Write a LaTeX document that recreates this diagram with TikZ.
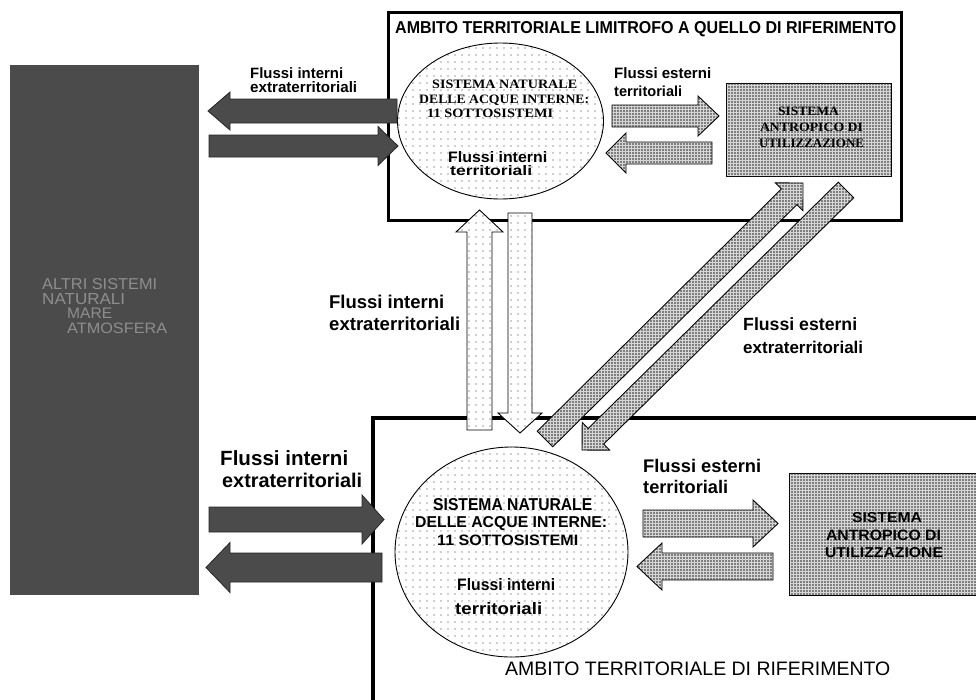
\documentclass[tikz,border=0pt]{standalone}
\usepackage{fontspec}
\setmainfont{Liberation Sans}
\newfontfamily\serifbold{Liberation Serif}[BoldFont={Liberation Serif Bold}]
\usepackage{graphicx}
\usetikzlibrary{calc,patterns.meta,shapes.geometric}

\definecolor{darkfill}{HTML}{4B4B4B}
\definecolor{darktext}{HTML}{8E8E8E}

% a line of text squeezed to a given width and height (pt)
\newcommand\fitw[3]{\resizebox{#1pt}{#2pt}{#3}}
% a line of text scaled to a given width, natural aspect
\newcommand\fitn[2]{\resizebox{#1pt}{!}{#2}}

% block arrow: #1 style, #2 tail, #3 tip, #4 half shaft width,
% #5 head length, #6 half head width
\newcommand\blockarrow[6]{%
  \coordinate (hb) at ($(#3)!#5pt!(#2)$);
  \draw[#1] ($(#2)!#4pt!-90:(#3)$) -- ($(hb)!#4pt!-90:(#3)$)
    -- ($(hb)!#6pt!-90:(#3)$) -- (#3) -- ($(hb)!#6pt!90:(#3)$)
    -- ($(hb)!#4pt!90:(#3)$) -- ($(#2)!#4pt!90:(#3)$) -- cycle;
}

\tikzset{
  darkflow/.style={fill=darkfill, draw=black!85, line width=0.8pt},
  dense/.style={fill=gray!32, draw=black, line width=0.9pt,
    postaction={pattern={Dots[distance=3pt,radius=0.8pt]}, pattern color=black!85}},
  sparse/.style={fill=white, draw=black, line width=0.9pt,
    postaction={pattern={Dots[distance=7pt,radius=0.6pt]}, pattern color=black!80}},
  lab/.style={inner sep=0pt, anchor=base west},
  frame/.style={draw=black, line width=3pt},
}

\begin{document}
\begin{tikzpicture}[x=1pt, y=-1pt]
\useasboundingbox (0,0) rectangle (976,699);

% other natural systems
\node[fill=darkfill, draw=darkfill, minimum width=188pt, minimum height=529pt,
      inner sep=0pt] (altri) at (104,329.5) {};

% neighbouring territory
\node[frame, minimum width=513pt, minimum height=208pt, inner sep=0pt]
  (limitrofo) at (644.5,116) {};

% reference territory (open towards right and bottom)
\coordinate (rifTR) at (980,418);
\coordinate (rifTL) at (373,418);
\coordinate (rifBL) at (373,703);
\draw[draw=black, line width=4pt] (rifTR) -- (rifTL) -- (rifBL);

% natural water systems
\node[sparse, ellipse, minimum width=206pt, minimum height=156pt, inner sep=0pt]
  (nat1) at (500.5,121) {};
\node[sparse, ellipse, minimum width=233pt, minimum height=210pt, inner sep=0pt]
  (nat2) at (511.5,552) {};

% anthropic systems of use
\node[dense, minimum width=165pt, minimum height=93pt, inner sep=0pt]
  (ant1) at (808.5,129.5) {};
\node[dense, minimum width=191pt, minimum height=122pt, inner sep=0pt]
  (ant2) at (884.5,534) {};

% arrow end points
\coordinate (a1s) at (397,111);   \coordinate (a1e) at (208,111);
\coordinate (a2s) at (209,146);   \coordinate (a2e) at (398,146);
\coordinate (a3s) at (209,519.5); \coordinate (a3e) at (384,519.5);
\coordinate (a4s) at (382,567.5); \coordinate (a4e) at (206,567.5);
\coordinate (a5s) at (612,116);   \coordinate (a5e) at (719,116);
\coordinate (a6s) at (712,153);   \coordinate (a6e) at (606,153);
\coordinate (a7s) at (643,523.5); \coordinate (a7e) at (778,523.5);
\coordinate (a8s) at (773,566.5); \coordinate (a8e) at (637,566.5);
\coordinate (a9s) at (479.5,430); \coordinate (a9e) at (479.5,210);
\coordinate (a10s) at (520,213); \coordinate (a10e) at (520,433);
\coordinate (a11s) at (545,439); \coordinate (a11e) at (803,183);
\coordinate (a12s) at (846,190); \coordinate (a12e) at (582,450);

% external extraterritorial flows (diagonal)
\blockarrow{dense}{a11s}{a11e}{11}{19.5}{19.5}
\blockarrow{dense}{a12s}{a12e}{11}{19.5}{19.5}

% internal extraterritorial flows between the two water systems
\blockarrow{sparse}{a9s}{a9e}{12.5}{22}{23.5}
\blockarrow{sparse}{a10s}{a10e}{12}{20}{22}

% internal extraterritorial flows towards the other natural systems
\blockarrow{darkflow}{a1s}{a1e}{12}{22}{19}
\blockarrow{darkflow}{a2s}{a2e}{11}{20}{19.5}
\blockarrow{darkflow}{a3s}{a3e}{12.5}{22}{24.5}
\blockarrow{darkflow}{a4s}{a4e}{14.5}{24}{25}

% external territorial flows
\blockarrow{dense}{a5s}{a5e}{11}{21}{20}
\blockarrow{dense}{a6s}{a6e}{11}{20}{20}
\blockarrow{dense}{a7s}{a7e}{13.5}{25}{23.5}
\blockarrow{dense}{a8s}{a8e}{13.5}{25}{23.5}

% ---- texts ----
\node[lab] (t0) at (395,33) {\fitw{501}{12}{\bfseries AMBITO TERRITORIALE LIMITROFO A QUELLO DI RIFERIMENTO}};
\node[lab] (t1) at (505,675) {\fitn{385}{AMBITO TERRITORIALE DI RIFERIMENTO}};

% other natural systems
\begin{scope}[every node/.style={lab, text=darktext}]
\node (o1) at (42,289) {\fitw{115}{11}{ALTRI SISTEMI}};
\node (o2) at (42,304) {\fitw{83}{11}{NATURALI}};
\node (o3) at (67,318) {\fitw{45}{10.5}{MARE}};
\node (o4) at (67,333) {\fitw{100}{10.5}{ATMOSFERA}};
\end{scope}

% upper water system
\node[lab] (u1) at (432,88)  {\fitw{145}{8.5}{\serifbold\bfseries SISTEMA NATURALE}};
\node[lab] (u2) at (419,103) {\fitw{170}{8.5}{\serifbold\bfseries DELLE ACQUE INTERNE:}};
\node[lab] (u3) at (427,117) {\fitw{126}{8.5}{\serifbold\bfseries 11 SOTTOSISTEMI}};
\node[lab] (u4) at (448,162) {\fitw{99}{11}{\bfseries Flussi interni}};
\node[lab] (u5) at (450,175) {\fitw{82}{10}{\bfseries territoriali}};

% lower water system
\node[lab] (l1) at (433,510) {\fitw{159}{12}{\bfseries SISTEMA NATURALE}};
\node[lab] (l2) at (415,527) {\fitw{192}{11}{\bfseries DELLE ACQUE INTERNE:}};
\node[lab] (l3) at (437,545) {\fitw{141}{10.5}{\bfseries 11 SOTTOSISTEMI}};
\node[lab] (l4) at (457,590) {\fitw{98}{12}{\bfseries Flussi interni}};
\node[lab] (l5) at (455,614) {\fitw{87}{12}{\bfseries territoriali}};

% anthropic systems
\node[lab, anchor=base] (s1) at (808.5,115) {\fitw{61}{8.5}{\serifbold\bfseries SISTEMA}};
\node[lab, anchor=base] (s2) at (811.5,131) {\fitw{103}{8.5}{\serifbold\bfseries ANTROPICO DI}};
\node[lab, anchor=base] (s3) at (811.5,147) {\fitw{105}{8.5}{\serifbold\bfseries UTILIZZAZIONE}};
\node[lab, anchor=base] (s4) at (887,522) {\fitw{70}{10}{\bfseries SISTEMA}};
\node[lab, anchor=base] (s5) at (883.5,540) {\fitw{115}{10.5}{\bfseries ANTROPICO DI}};
\node[lab, anchor=base] (s6) at (884,557) {\fitw{118}{10}{\bfseries UTILIZZAZIONE}};

% flow labels
\node[lab] (f1) at (250,78)  {\fitn{93}{\bfseries Flussi interni}};
\node[lab] (f2) at (250,92)  {\fitn{107}{\bfseries extraterritoriali}};
\node[lab] (f3) at (614,78)  {\fitn{97}{\bfseries Flussi esterni}};
\node[lab] (f4) at (614,96)  {\fitn{68}{\bfseries territoriali}};
\node[lab] (f5) at (329,308) {\fitn{115}{\bfseries Flussi interni}};
\node[lab] (f6) at (329,330) {\fitn{131}{\bfseries extraterritoriali}};
\node[lab] (f7) at (743,330) {\fitn{114}{\bfseries Flussi esterni}};
\node[lab] (f8) at (743,353) {\fitn{120}{\bfseries extraterritoriali}};
\node[lab] (f9) at (220,465) {\fitn{128}{\bfseries Flussi interni}};
\node[lab] (f10) at (222,487) {\fitn{140}{\bfseries extraterritoriali}};
\node[lab] (f11) at (643,472) {\fitn{118}{\bfseries Flussi esterni}};
\node[lab] (f12) at (643,493) {\fitn{85}{\bfseries territoriali}};
\end{tikzpicture}
\end{document}
